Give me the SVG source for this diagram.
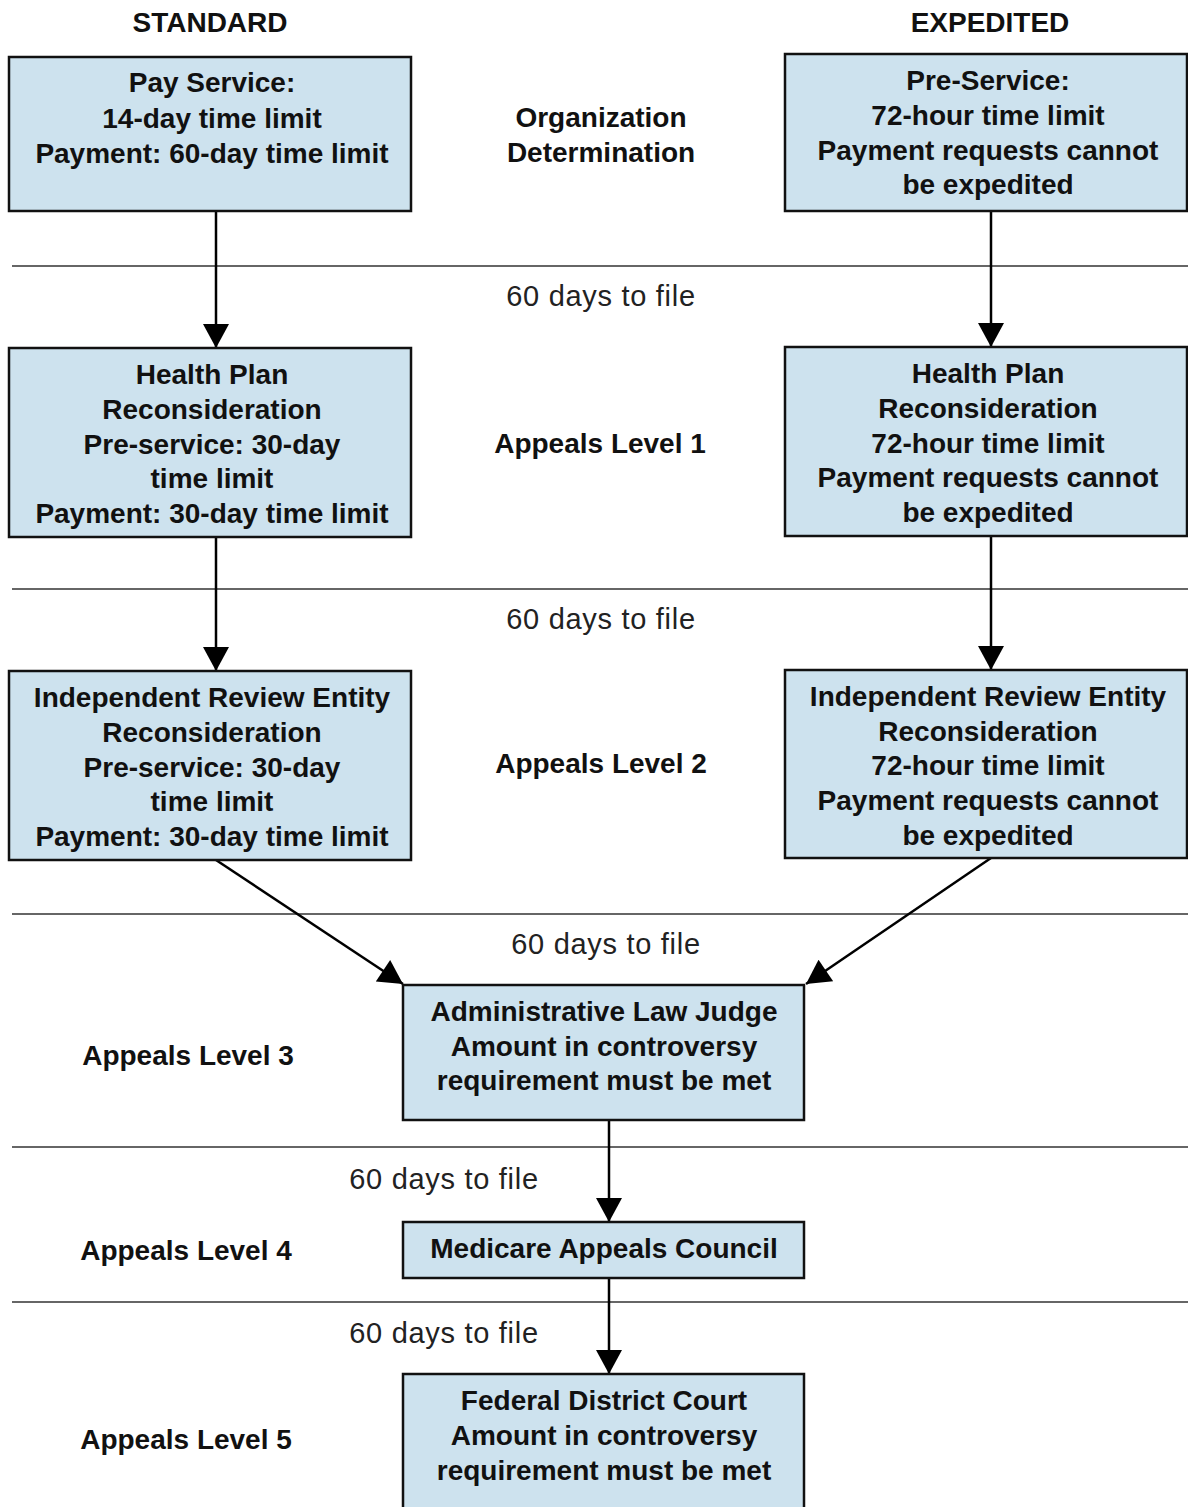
<svg xmlns="http://www.w3.org/2000/svg" width="1188" height="1507" viewBox="0 0 1188 1507">
<style>
.box{fill:#cde2ee;stroke:#111;stroke-width:2.5}
.b{font-family:"Liberation Sans",Arial,sans-serif;font-weight:bold;font-size:28px;fill:#111;text-anchor:middle}
.r{font-family:"Liberation Sans","Noto Sans",sans-serif;font-size:29px;letter-spacing:0.7px;fill:#222;text-anchor:middle}
.sep{stroke:#333;stroke-width:1.3}
.con{stroke:#000;stroke-width:2.5;fill:none;marker-end:url(#ah)}
</style>
<defs>
<marker id="ah" markerUnits="userSpaceOnUse" markerWidth="28" markerHeight="26" refX="24" refY="13" orient="auto" viewBox="0 0 24 26">
<path d="M0,0 L24,13 L0,26 Z" fill="#000"/>
</marker>
</defs>
<rect width="1188" height="1507" fill="#fff"/>
<g id="separators">
<line class="sep" x1="12" y1="266" x2="1188" y2="266"/>
<line class="sep" x1="12" y1="589" x2="1188" y2="589"/>
<line class="sep" x1="12" y1="914" x2="1188" y2="914"/>
<line class="sep" x1="12" y1="1147" x2="1188" y2="1147"/>
<line class="sep" x1="12" y1="1302" x2="1188" y2="1302"/>
</g>
<g id="labels">
<text class="b" x="210" y="32">STANDARD</text>
<text class="b" x="990" y="32">EXPEDITED</text>
<text class="b" x="601" y="127">Organization</text>
<text class="b" x="601" y="162">Determination</text>
<text class="b" x="600" y="453">Appeals Level 1</text>
<text class="b" x="601" y="773">Appeals Level 2</text>
<text class="b" x="188" y="1065">Appeals Level 3</text>
<text class="b" x="186" y="1260">Appeals Level 4</text>
<text class="b" x="186" y="1449">Appeals Level 5</text>
<text class="r" x="601" y="306">60 days to file</text>
<text class="r" x="601" y="629">60 days to file</text>
<text class="r" x="606" y="954">60 days to file</text>
<text class="r" x="444" y="1189">60 days to file</text>
<text class="r" x="444" y="1343">60 days to file</text>
</g>
<g id="connectors">
<line class="con" x1="216" y1="211" x2="216" y2="348"/>
<line class="con" x1="991" y1="211" x2="991" y2="347"/>
<line class="con" x1="216" y1="537" x2="216" y2="671"/>
<line class="con" x1="991" y1="536" x2="991" y2="670"/>
<line class="con" x1="216" y1="860" x2="403" y2="984"/>
<line class="con" x1="991" y1="858" x2="806" y2="984"/>
<line class="con" x1="609" y1="1120" x2="609" y2="1222"/>
<line class="con" x1="609" y1="1278" x2="609" y2="1374"/>
</g>
<g id="n-std-od">
<rect class="box" x="9" y="57" width="402" height="154"/>
<text class="b" x="212" y="92">Pay Service:</text>
<text class="b" x="212" y="128">14-day time limit</text>
<text class="b" x="212" y="163">Payment: 60-day time limit</text>
</g>
<g id="n-exp-od">
<rect class="box" x="785" y="54" width="402" height="157"/>
<text class="b" x="988" y="90">Pre-Service:</text>
<text class="b" x="988" y="125">72-hour time limit</text>
<text class="b" x="988" y="160">Payment requests cannot</text>
<text class="b" x="988" y="194">be expedited</text>
</g>
<g id="n-std-l1">
<rect class="box" x="9" y="348" width="402" height="189"/>
<text class="b" x="212" y="384">Health Plan</text>
<text class="b" x="212" y="419">Reconsideration</text>
<text class="b" x="212" y="454">Pre-service: 30-day</text>
<text class="b" x="212" y="488">time limit</text>
<text class="b" x="212" y="523">Payment: 30-day time limit</text>
</g>
<g id="n-exp-l1">
<rect class="box" x="785" y="347" width="402" height="189"/>
<text class="b" x="988" y="383">Health Plan</text>
<text class="b" x="988" y="418">Reconsideration</text>
<text class="b" x="988" y="453">72-hour time limit</text>
<text class="b" x="988" y="487">Payment requests cannot</text>
<text class="b" x="988" y="522">be expedited</text>
</g>
<g id="n-std-l2">
<rect class="box" x="9" y="671" width="402" height="189"/>
<text class="b" x="212" y="707">Independent Review Entity</text>
<text class="b" x="212" y="742">Reconsideration</text>
<text class="b" x="212" y="777">Pre-service: 30-day</text>
<text class="b" x="212" y="811">time limit</text>
<text class="b" x="212" y="846">Payment: 30-day time limit</text>
</g>
<g id="n-exp-l2">
<rect class="box" x="785" y="670" width="402" height="188"/>
<text class="b" x="988" y="706">Independent Review Entity</text>
<text class="b" x="988" y="741">Reconsideration</text>
<text class="b" x="988" y="775">72-hour time limit</text>
<text class="b" x="988" y="810">Payment requests cannot</text>
<text class="b" x="988" y="845">be expedited</text>
</g>
<g id="n-alj">
<rect class="box" x="403" y="985" width="401" height="135"/>
<text class="b" x="604" y="1021">Administrative Law Judge</text>
<text class="b" x="604" y="1056">Amount in controversy</text>
<text class="b" x="604" y="1090">requirement must be met</text>
</g>
<g id="n-mac">
<rect class="box" x="403" y="1222" width="401" height="56"/>
<text class="b" x="604" y="1258">Medicare Appeals Council</text>
</g>
<g id="n-fdc">
<rect class="box" x="403" y="1374" width="401" height="140"/>
<text class="b" x="604" y="1410">Federal District Court</text>
<text class="b" x="604" y="1445">Amount in controversy</text>
<text class="b" x="604" y="1480">requirement must be met</text>
</g>
</svg>
